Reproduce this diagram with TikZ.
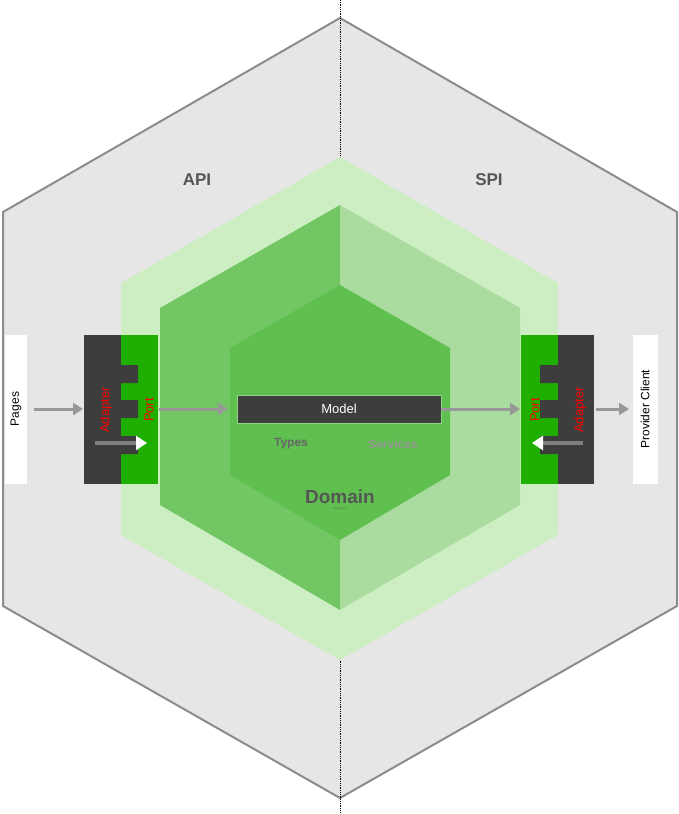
\documentclass[tikz,border=0pt]{standalone}
\usepackage{fontspec}
\setmainfont{Liberation Sans}
\usetikzlibrary{arrows.meta}
\definecolor{outerg}{HTML}{E6E6E6}
\definecolor{lightg}{HTML}{CDEEC2}
\definecolor{midL}{HTML}{72C664}
\definecolor{midR}{HTML}{ABDC9F}
\definecolor{innerg}{HTML}{5FC050}
\definecolor{portg}{HTML}{1FAF00}
\definecolor{dark}{HTML}{3D3D3D}
\definecolor{txtg}{HTML}{555555}
\tikzset{
  conn/.style={draw=gray!85!black!70, line width=3pt, -{Triangle[length=10pt,width=12pt]}},
  inarr/.style={draw=gray, line width=3.5pt, -{Triangle[length=11pt,width=14pt,color=white,fill=white]}},
  side/.style={fill=white, minimum width=22pt, minimum height=149pt, inner sep=0pt},
  rlab/.style={rotate=90, text=red, font=\fontsize{13}{13}\selectfont},
}
\begin{document}
\begin{tikzpicture}[x=1pt,y=-1pt]
\useasboundingbox (0,0) rectangle (679,814);
\filldraw[fill=outerg, draw=gray!90, line width=2pt] (340,18)--(677,212)--(677,606)--(340,798)--(3,606)--(3,212)--cycle;
\draw[densely dotted, line width=0.8pt] (340,0)--(340,814);
\fill[lightg] (340,157)--(558,283)--(558,535)--(340,660)--(121,535)--(121,283)--cycle;
\fill[midL] (340,205)--(340,610)--(160,505)--(160,308)--cycle;
\fill[midR] (340,205)--(520,308)--(520,505)--(340,610)--cycle;
\fill[innerg] (340,285)--(450,348)--(450,475)--(340,540)--(230,475)--(230,348)--cycle;
\node[font=\bfseries\fontsize{17}{17}\selectfont, text=txtg] (api) at (197,180) {API};
\node[font=\bfseries\fontsize{17}{17}\selectfont, text=txtg] (spi) at (489,180) {SPI};
% Model
\node[fill=dark, draw=innerg!70!white, minimum width=204pt, minimum height=28pt, text=white, font=\fontsize{13}{13}\selectfont] (model) at (339,409) {Model};
\node[text=txtg!90, font=\bfseries\fontsize{12}{12}\selectfont] (types) at (291,444) {Types};
\node[text=gray!85, font=\bfseries\fontsize{12}{12}\selectfont] (serv) at (393,444) {Services};
\node[text=txtg, font=\bfseries\fontsize{19}{19}\selectfont] (dom) at (340,497) {Domain};
\node[text=txtg, font=\fontsize{2.5}{3}\selectfont] (by) at (340,509) {by Kung Fu};
% left
\node[side] (pages) at (16,409) {};
\node[rotate=90, font=\fontsize{12}{12}\selectfont] at (pages) {Pages};
\fill[dark] (84,335) rectangle (121,484);
\fill[portg] (121,335) rectangle (158,484);
\fill[dark] (121,365) rectangle (138,383) (121,400) rectangle (138,418) (121,436) rectangle (138,454);
\coordinate (ladp) at (83,409); \coordinate (lport) at (159,409); \coordinate (lend) at (228,409);
\node[rlab] at (106,410) {Adapter};
\node[rlab] at (149,410) {Port};
\coordinate (la1) at (95,443); \coordinate (la2) at (147,443);
\draw[inarr] (la1)--(la2);
% right
\fill[portg] (521,335) rectangle (558,484);
\fill[dark] (558,335) rectangle (594,484);
\fill[dark] (540,365) rectangle (558,383) (540,400) rectangle (558,418) (540,436) rectangle (558,454);
\coordinate (rport) at (520,409); \coordinate (radp) at (596,409); \coordinate (rend) at (629,409);
\node[rlab] at (535,410) {Port};
\node[rlab] at (580,410) {Adapter};
\coordinate (ra1) at (583,443); \coordinate (ra2) at (532,443);
\draw[inarr] (ra1)--(ra2);
\node[side, minimum width=25pt] (prov) at (645,409) {};
\node[rotate=90, font=\fontsize{12}{12}\selectfont] at (prov) {Provider Client};
\coordinate (pstart) at (34,409);
% connectors
\draw[conn] (pstart) -- (ladp);
\draw[conn] (lport) -- (lend);
\draw[conn] (model.east) -- (rport);
\draw[conn] (radp) -- (rend);
\end{tikzpicture}
\end{document}
